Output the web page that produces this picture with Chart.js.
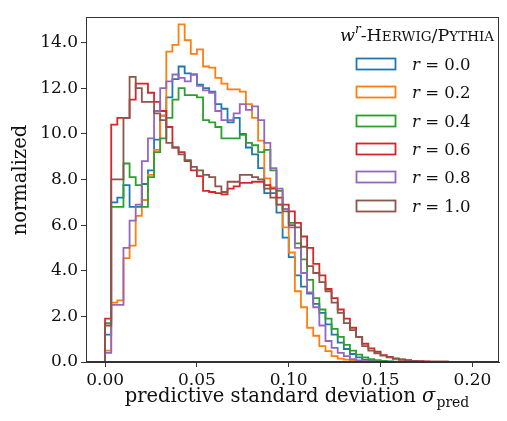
<!DOCTYPE html>
<html>
<head>
<meta charset="utf-8">
<script src="https://cdn.jsdelivr.net/npm/chart.js@4.4.1/dist/chart.umd.min.js"></script>
<style>
  html, body { margin: 0; padding: 0; background: #fff; }
  #chart-container { width: 507px; height: 421px; }
</style>
</head>
<body>
<div id="chart-container"><canvas id="chart" width="507" height="421"></canvas></div>
<script>
// histogram bins: 60 bins from 0.0 to 0.2
var binStart = 0.0;
var binWidth = 0.2 / 60;

// r values of the reweighting (legend labels)
var seriesLabels = ['0.0', '0.2', '0.4', '0.6', '0.8', '1.0'];

// normalized counts per bin
var valuesR00 = [1.2, 7.0, 7.2, 7.75, 6.8, 6.8, 7.8, 8.4, 9.75, 10.8,
  11.6, 12.4, 12.95, 12.65, 12.6, 12.15, 12.0, 11.85, 11.3, 11.1,
  10.5, 10.7, 10.0, 9.4, 9.1, 8.5, 7.4, 7.4, 6.55, 5.45,
  4.6, 3.8, 3.3, 3.0, 2.55, 2.15, 1.65, 1.2, 0.85, 0.57,
  0.35, 0.2, 0.1, 0.06, 0.04, 0.02, 0.01, 0, 0, 0,
  0, 0, 0, 0, 0, 0, 0, 0, 0, 0];
var valuesR02 = [0.5, 2.6, 2.7, 4.55, 5.1, 6.4, 7.1, 8.2, 9.3, 10.8,
  13.6, 13.9, 14.8, 14.1, 13.5, 13.7, 12.95, 12.9, 12.45, 12.2,
  11.95, 11.95, 11.85, 11.3, 10.7, 9.7, 8.05, 7.65, 6.9, 5.9,
  4.8, 3.1, 2.4, 1.5, 1.15, 0.7, 0.48, 0.26, 0.15, 0.1,
  0.06, 0.04, 0.02, 0.01, 0, 0, 0, 0, 0, 0,
  0, 0, 0, 0, 0, 0, 0, 0, 0, 0];
var valuesR04 = [1.7, 6.8, 6.8, 8.7, 8.1, 7.75, 6.8, 8.1, 9.2, 9.8,
  10.7, 11.5, 12.0, 11.7, 11.7, 11.6, 10.6, 10.5, 10.3, 9.8,
  9.8, 9.8, 9.95, 9.6, 9.5, 9.2, 9.3, 8.4, 7.5, 6.7,
  6.1, 5.2, 4.5, 3.6, 2.8, 2.3, 1.9, 1.45, 1.1, 0.75,
  0.5, 0.32, 0.2, 0.12, 0.08, 0.05, 0.03, 0.02, 0.01, 0,
  0, 0, 0, 0, 0, 0, 0, 0, 0, 0];
var valuesR06 = [1.9, 10.4, 10.7, 10.7, 11.5, 12.2, 12.2, 11.8, 11.4, 11.0,
  10.3, 9.4, 9.2, 8.8, 8.4, 8.15, 7.5, 7.45, 7.4, 7.35,
  7.6, 7.7, 7.85, 7.85, 7.9, 7.9, 7.75, 7.6, 7.2, 6.9,
  6.6, 6.1, 5.5, 5.0, 4.3, 3.8, 3.2, 2.8, 2.3, 1.9,
  1.5, 1.1, 0.8, 0.6, 0.45, 0.3, 0.22, 0.16, 0.11, 0.08,
  0.05, 0.04, 0.03, 0.02, 0.01, 0.01, 0, 0, 0, 0];
var valuesR08 = [0.4, 2.5, 2.5, 5.0, 6.2, 6.9, 8.8, 9.8, 11.0, 12.0,
  12.3, 12.6, 12.45, 12.3, 12.6, 12.1, 11.9, 11.8, 11.0, 10.6,
  10.6, 10.9, 11.3, 11.05, 11.2, 10.6, 9.6, 8.5, 7.6, 6.7,
  5.9, 5.0, 3.9, 3.05, 2.4, 1.6, 0.92, 0.62, 0.4, 0.26,
  0.13, 0.07, 0.04, 0.02, 0.01, 0, 0, 0, 0, 0,
  0, 0, 0, 0, 0, 0, 0, 0, 0, 0];
var valuesR10 = [1.6, 8.0, 8.0, 10.7, 12.5, 12.0, 11.4, 11.4, 10.9, 10.6,
  9.6, 9.4, 9.1, 8.85, 8.55, 8.4, 8.2, 8.1, 7.7, 7.45,
  7.9, 7.9, 8.2, 8.2, 8.1, 8.0, 7.6, 7.2, 6.9, 6.6,
  6.0, 5.9, 5.05, 4.2, 3.9, 3.5, 3.1, 2.6, 2.15, 1.7,
  1.4, 1.1, 0.7, 0.5, 0.38, 0.28, 0.2, 0.14, 0.1, 0.07,
  0.05, 0.03, 0.02, 0.02, 0.01, 0.01, 0, 0, 0, 0];

var seriesValues = [valuesR00, valuesR02, valuesR04, valuesR06, valuesR08, valuesR10];
var seriesColors = ['#1f77b4', '#ff7f0e', '#2ca02c', '#d62728', '#9467bd', '#8c564b'];

// axis ticks
var xTicks = [0.00, 0.05, 0.10, 0.15, 0.20];
var yTicks = [0, 2, 4, 6, 8, 10, 12, 14];
var xMin = -0.0104, xMax = 0.2145;
var yMin = 0, yMax = 15.12;

var serif = '"DejaVu Serif", "Liberation Serif", serif';

// outline of a step histogram: up at the first edge, flat over each bin, down at the last edge
function histogramPoints(values) {
    var pts = [{ x: binStart, y: 0 }];
    values.forEach(function (v, i) {
        pts.push({ x: binStart + i * binWidth, y: v });
    });
    pts.push({ x: binStart + values.length * binWidth, y: 0 });
    return pts;
}

// draws a list of text pieces one after the other, returns total width
function drawRuns(ctx, runs, x, y, measureOnly) {
    var w = 0;
    runs.forEach(function (r) {
        ctx.font = r.font;
        if (!measureOnly) ctx.fillText(r.text, x + w, y + (r.dy || 0));
        w += ctx.measureText(r.text).width + (r.gap || 0);
    });
    return w;
}

var decorPlugin = {
    id: 'decor',
    afterDraw: function (chart) {
        var ctx = chart.ctx;
        var a = chart.chartArea;
        ctx.save();
        ctx.fillStyle = '#111';
        ctx.textBaseline = 'alphabetic';
        ctx.textAlign = 'left';

        // frame
        ctx.strokeStyle = '#333';
        ctx.lineWidth = 1;
        ctx.strokeRect(Math.round(a.left) + 0.5, Math.round(a.top) + 0.5,
            Math.round(a.right - a.left) - 1, Math.round(a.bottom - a.top) - 1);

        // x title with subscript
        var xRuns = [
            { text: 'predictive standard deviation ', font: '19.5px ' + serif },
            { text: '\u03c3', font: 'italic 19.5px ' + serif, gap: 1 },
            { text: 'pred', font: '14px ' + serif, dy: 5 }
        ];
        var xw = drawRuns(ctx, xRuns, 0, 0, true);
        drawRuns(ctx, xRuns, 297 - xw / 2, 402);

        // y title
        ctx.save();
        ctx.translate(26, 180);
        ctx.rotate(-Math.PI / 2);
        ctx.font = '19.5px ' + serif;
        ctx.textAlign = 'center';
        ctx.fillText('normalized', 0, 0);
        ctx.restore();

        // legend title, small caps done by hand
        var big = '17.5px ' + serif, small = '13.5px ' + serif;
        var tRuns = [
            { text: 'w', font: 'italic 17.5px ' + serif },
            { text: 'r', font: 'italic 12px ' + serif, dy: -8 },
            { text: '-H', font: big },
            { text: 'ERWIG', font: small },
            { text: '/P', font: big },
            { text: 'YTHIA', font: small }
        ];
        var tw = drawRuns(ctx, tRuns, 0, 0, true);
        drawRuns(ctx, tRuns, 494 - tw, 41);

        // legend entries
        seriesLabels.forEach(function (lab, i) {
            var cy = 63.5 + 28.3 * i;
            ctx.strokeStyle = seriesColors[i];
            ctx.lineWidth = 1.8;
            ctx.strokeRect(356.5, Math.round(cy - 5.5) + 0.5, 39, 11);
            drawRuns(ctx, [
                { text: 'r', font: 'italic 16.5px ' + serif },
                { text: ' = ' + lab, font: '16.5px ' + serif }
            ], 412, cy + 6.5);
        });
        ctx.restore();
    }
};

var datasets = seriesValues.map(function (vals, i) {
    return {
        label: 'r = ' + seriesLabels[i],
        data: histogramPoints(vals),
        borderColor: seriesColors[i],
        borderWidth: 1.8,
        pointRadius: 0,
        fill: false,
        stepped: 'before',
        order: seriesValues.length - 1 - i
    };
});

var ctx = document.getElementById('chart').getContext('2d');
var myChart = new Chart(ctx, {
    type: 'line',
    data: { datasets: datasets },
    options: {
        responsive: false,
        animation: false,
        layout: { padding: { top: 17, right: 8, left: 0, bottom: 0 } },
        plugins: { legend: { display: false }, tooltip: { enabled: false } },
        scales: {
            x: {
                type: 'linear',
                min: xMin,
                max: xMax,
                afterBuildTicks: function (scale) {
                    scale.ticks = xTicks.map(function (v) { return { value: v }; });
                },
                afterFit: function (scale) { scale.height = 59; },
                grid: { drawOnChartArea: false, drawTicks: true, tickLength: 5, color: '#333' },
                border: { display: true, color: '#333' },
                ticks: {
                    color: '#111',
                    padding: 3,
                    maxRotation: 0,
                    font: { family: serif, size: 17 },
                    callback: function (v) { return v.toFixed(2); }
                }
            },
            y: {
                min: yMin,
                max: yMax,
                afterBuildTicks: function (scale) {
                    scale.ticks = yTicks.map(function (v) { return { value: v }; });
                },
                afterFit: function (scale) { scale.width = 86; },
                grid: { drawOnChartArea: false, drawTicks: true, tickLength: 5, color: '#333' },
                border: { display: true, color: '#333' },
                ticks: {
                    color: '#111',
                    padding: 3,
                    font: { family: serif, size: 17 },
                    callback: function (v) { return v.toFixed(1); }
                }
            }
        }
    },
    plugins: [decorPlugin]
});
</script>
</body>
</html>
